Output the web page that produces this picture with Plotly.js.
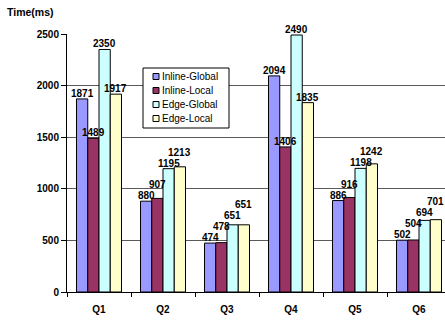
<!DOCTYPE html>
<html>
<head>
<meta charset="utf-8">
<script src="https://cdn.plot.ly/plotly-3.0.1.min.js"></script>
<style>html,body{margin:0;padding:0;background:#fff;overflow:hidden;}#wrap{width:445px;height:320px;overflow:hidden;}#chart{width:451px;height:320px;}</style>
</head>
<body>
<div id="wrap"><div id="chart"></div></div>
<script>
const categories = ["Q1", "Q2", "Q3", "Q4", "Q5", "Q6"];
const inlineGlobal = [1871, 880, 474, 2094, 886, 502];
const inlineLocal = [1489, 907, 478, 1406, 916, 504];
const edgeGlobal = [2350, 1195, 651, 2490, 1198, 694];
const edgeLocal = [1917, 1213, 651, 1835, 1242, 701];
const seriesNames = ["Inline-Global", "Inline-Local", "Edge-Global", "Edge-Local"];
const seriesColors = ["#9999FF", "#993366", "#CCFFFF", "#FFFFCC"];
const yTicks = [0, 500, 1000, 1500, 2000, 2500];

const FONT = "Arial, 'Liberation Sans', sans-serif";
const W = 451, H = 320;
const M = {l: 67, r: 0, t: 34, b: 28};
const plotW = W - M.l - M.r, plotH = H - M.t - M.b;
const yMax = 2500;
const BARGAP = 0.297;
const allSeries = [inlineGlobal, inlineLocal, edgeGlobal, edgeLocal];
const nS = allSeries.length;

const traces = allSeries.map((vals, i) => ({
  type: "bar",
  name: seriesNames[i],
  x: categories,
  y: vals,
  marker: {color: seriesColors[i], line: {color: "#000", width: 1}},
  hoverinfo: "none",
  showlegend: false
}));

// value labels: centered on each bar, lifted when they would collide with the neighbour's label
const pxPerUnit = plotH / yMax;
const LABEL_H = 11;
const annotations = [];
categories.forEach((cat, c) => {
  let prev = null;
  allSeries.forEach((vals, i) => {
    const v = vals[c];
    const base = v * pxPerUnit;
    let placed = base;
    if (prev !== null && Math.abs(placed - prev) < LABEL_H) placed = prev + LABEL_H;
    prev = placed;
    annotations.push({
      x: c + (i - (nS - 1) / 2) * (1 - BARGAP) / nS,
      y: v, xref: "x", yref: "y",
      text: String(v), showarrow: false,
      xanchor: "center", yanchor: "bottom",
      yshift: placed - base - 2,
      font: {family: FONT, size: 10, color: "#000", weight: "bold"}
    });
  });
});

// legend drawn as a box with small swatches
const px2x = p => (p - M.l) / plotW;
const px2y = p => (M.t + plotH - p) / plotH;
const LG = {x0: 143, y0: 68, x1: 229, y1: 128, rowH: 14, firstRow: 76.5, sw: 6, swX: 153, txtX: 160};
const shapes = [{
  type: "rect", xref: "paper", yref: "paper",
  x0: px2x(LG.x0), x1: px2x(LG.x1), y0: px2y(LG.y1), y1: px2y(LG.y0),
  line: {color: "#000", width: 1}, fillcolor: "#fff", layer: "above"
}];
seriesNames.forEach((name, i) => {
  const cy = LG.firstRow + i * LG.rowH;
  shapes.push({
    type: "rect", xref: "paper", yref: "paper",
    x0: px2x(LG.swX), x1: px2x(LG.swX + LG.sw),
    y0: px2y(cy + LG.sw / 2), y1: px2y(cy - LG.sw / 2),
    line: {color: "#000", width: 1}, fillcolor: seriesColors[i], layer: "above"
  });
  annotations.push({
    xref: "paper", yref: "paper", x: px2x(LG.txtX), y: px2y(cy),
    text: name, showarrow: false, xanchor: "left", yanchor: "middle",
    font: {family: FONT, size: 10, color: "#000", weight: "normal"}
  });
});

const layout = {
  width: W, height: H, autosize: false,
  margin: {l: M.l, r: M.r, t: M.t, b: M.b, pad: 0},
  paper_bgcolor: "#fff", plot_bgcolor: "#fff",
  font: {family: FONT, color: "#000"},
  barmode: "group",
  bargap: BARGAP,
  bargroupgap: 0,
  showlegend: false,
  title: {text: "Time(ms)", x: 7 / W, xanchor: "left", y: 1 - 12 / H, yanchor: "middle",
          font: {family: FONT, size: 10.5, weight: "bold", color: "#000"}},
  xaxis: {
    type: "category",
    showline: true, linecolor: "#000", linewidth: 1,
    ticks: "outside", tickson: "boundaries", ticklen: 4, tickcolor: "#000",
    ticklabelstandoff: 8,
    tickfont: {family: FONT, size: 10, weight: "bold"},
    showgrid: false, zeroline: false, fixedrange: true
  },
  yaxis: {
    range: [0, yMax],
    tickvals: yTicks, ticktext: yTicks.map(String),
    showline: true, linecolor: "#000", linewidth: 1,
    ticks: "outside", ticklen: 5, tickcolor: "#000",
    tickfont: {family: FONT, size: 10, weight: "bold"},
    showgrid: true, gridcolor: "#5a5a5a", gridwidth: 1,
    zeroline: false, fixedrange: true
  },
  shapes: shapes,
  annotations: annotations
};

Plotly.newPlot("chart", traces, layout, {staticPlot: true, displayModeBar: false});
</script>
</body>
</html>
